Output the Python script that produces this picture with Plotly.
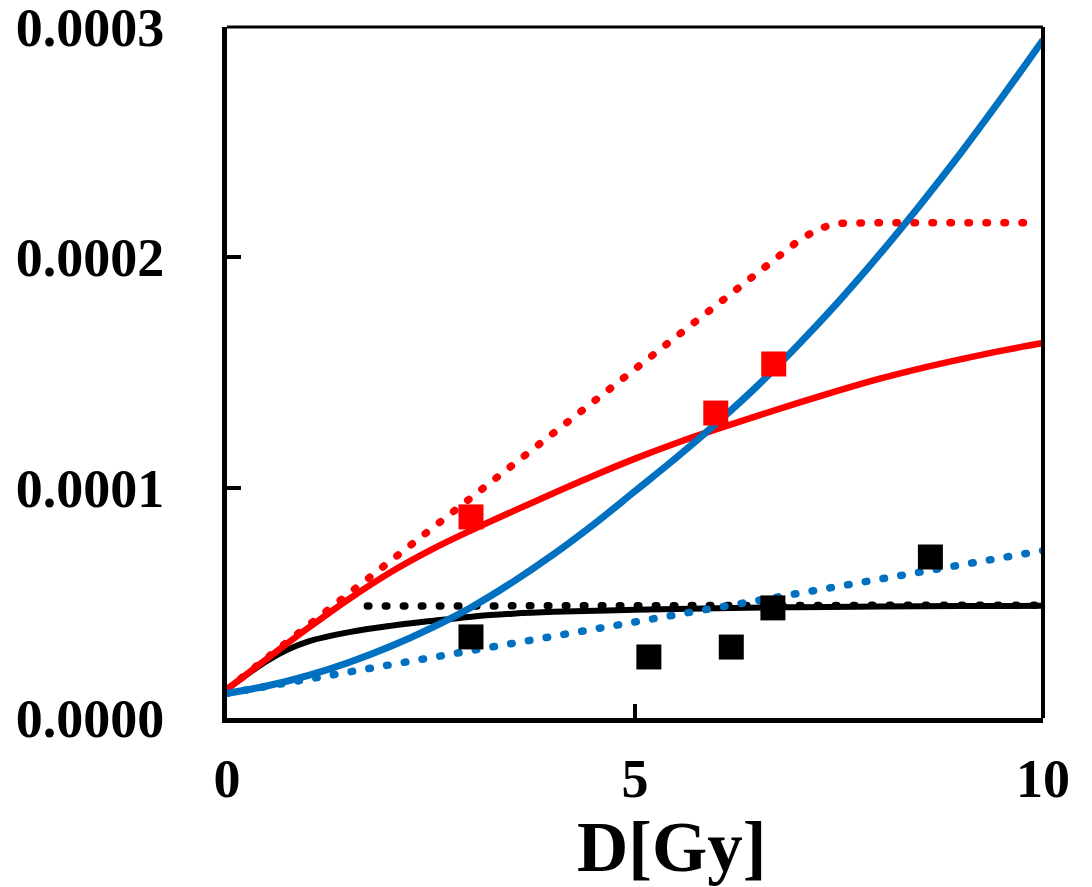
import plotly.graph_objects as go

# ---- data ----
x_curve = [0, 0.5, 1, 1.5, 2, 2.5, 3, 3.5, 4, 4.5, 5, 5.5, 6, 6.5, 7, 7.5, 8, 8.5, 9, 9.5, 10]

red_solid = [0.0000125, 0.0000260, 0.0000392, 0.0000518, 0.0000632, 0.0000730, 0.0000816,
             0.0000897, 0.0000976, 0.0001053, 0.0001126, 0.0001193, 0.0001254, 0.0001312,
             0.0001368, 0.0001422, 0.0001473, 0.0001518, 0.0001558, 0.0001595, 0.0001628]

blue_solid = [0.0000107, 0.0000140, 0.0000185, 0.0000242, 0.0000310, 0.0000390, 0.0000482,
              0.0000590, 0.0000710, 0.0000842, 0.0000985, 0.0001128, 0.0001280, 0.0001442,
              0.0001620, 0.0001810, 0.0002014, 0.0002230, 0.0002457, 0.0002696, 0.0002944]

x_black = [0, 0.25, 0.5, 0.75, 1, 1.5, 2, 2.5, 3, 3.5, 4, 5, 6, 7, 8, 9, 10]
black_solid = [0.0000125, 0.0000190, 0.0000250, 0.0000298, 0.0000333, 0.0000373, 0.0000400,
               0.0000421, 0.0000440, 0.0000453, 0.0000461, 0.0000470, 0.0000477, 0.0000481,
               0.0000484, 0.0000486, 0.0000487]

x_red_dot = [0, 1, 2, 3, 4, 5, 6, 7, 7.25, 7.5, 8, 9, 9.8]
red_dot = [0.0000125, 0.0000403, 0.0000681, 0.0000959, 0.0001237, 0.0001515, 0.0001793,
           0.0002071, 0.0002125, 0.0002148, 0.0002150, 0.0002150, 0.0002150]

x_blue_dot = [0, 1, 2, 3, 4, 5, 6, 7, 8, 9, 10]
blue_dot = [0.0000107, 0.0000169, 0.0000231, 0.0000293, 0.0000355, 0.0000417, 0.0000479,
            0.0000541, 0.0000603, 0.0000665, 0.0000727]

x_black_dot = [1.72, 3, 4, 5, 6, 7, 8, 9, 10]
black_dot = [0.0000486, 0.0000486, 0.0000486, 0.0000486, 0.0000486, 0.0000488, 0.0000490,
             0.0000490, 0.0000490]

x_red_sq = [2.99, 5.99, 6.70]
y_red_sq = [0.0000873, 0.0001324, 0.0001537]

x_black_sq = [2.99, 5.17, 6.18, 6.69, 8.62]
y_black_sq = [0.0000352, 0.0000265, 0.0000308, 0.0000478, 0.0000699]

x_ticks = [0, 5, 10]
y_ticks = [0, 0.0001, 0.0002, 0.0003]
y_tick_text = ["0.0000", "0.0001", "0.0002", "0.0003"]

RED = "#FF0000"
BLUE = "#0070C0"
BLACK = "#000000"
FONT = "Liberation Serif"
DOT = "1.5px,16.5px"

fig = go.Figure()
fig.add_trace(go.Scatter(x=x_black_dot, y=black_dot, mode="lines",
                         line=dict(color=BLACK, width=7.5, dash=DOT)))
fig.add_trace(go.Scatter(x=x_black, y=black_solid, mode="lines",
                         line=dict(color=BLACK, width=6, shape="spline")))
fig.add_trace(go.Scatter(x=x_blue_dot, y=blue_dot, mode="lines",
                         line=dict(color=BLUE, width=7.5, dash=DOT)))
fig.add_trace(go.Scatter(x=x_red_dot, y=red_dot, mode="lines",
                         line=dict(color=RED, width=7.5, dash=DOT)))
fig.add_trace(go.Scatter(x=x_curve, y=red_solid, mode="lines",
                         line=dict(color=RED, width=6.5, shape="spline")))
fig.add_trace(go.Scatter(x=x_curve, y=blue_solid, mode="lines",
                         line=dict(color=BLUE, width=7, shape="spline")))
fig.add_trace(go.Scatter(x=x_red_sq, y=y_red_sq, mode="markers",
                         marker=dict(symbol="square", size=25, color=RED, line=dict(width=0))))
fig.add_trace(go.Scatter(x=x_black_sq, y=y_black_sq, mode="markers",
                         marker=dict(symbol="square", size=25, color=BLACK, line=dict(width=0))))

fig.update_layout(
    width=1092, height=887,
    margin=dict(l=227, r=49, t=27, b=169),
    paper_bgcolor="white", plot_bgcolor="white",
    showlegend=False, hovermode=False,
    font=dict(family=FONT, color="black"),
    xaxis=dict(range=[0, 10], tickvals=x_ticks, ticktext=[str(v) for v in x_ticks],
               showgrid=False, zeroline=False, showline=True, linecolor="black", linewidth=5,
               ticks="inside", ticklen=14, tickwidth=4, tickcolor="black",
               tickfont=dict(family=FONT, size=54, color="black", weight="bold"),
               ticklabelstandoff=9, ticklabeloverflow="allow", automargin=False),
    yaxis=dict(range=[0, 0.0003], tickvals=y_ticks, ticktext=y_tick_text,
               showgrid=False, zeroline=False, showline=True, linecolor="black", linewidth=5,
               ticks="inside", ticklen=14, tickwidth=4, tickcolor="black",
               tickfont=dict(family=FONT, size=54, color="black", weight="bold"),
               ticklabelstandoff=47, ticklabeloverflow="allow", automargin=False),
    shapes=[
        dict(type="line", xref="paper", yref="paper", x0=0, x1=1, y0=1, y1=1,
             line=dict(color="black", width=3)),
        dict(type="line", xref="paper", yref="paper", x0=1, x1=1, y0=0, y1=1,
             line=dict(color="black", width=4)),
    ],
    annotations=[
        dict(text="<b>D[Gy]</b>", xref="paper", yref="paper", x=0.545, y=-0.1276,
             xanchor="center", yanchor="top", showarrow=False,
             font=dict(family=FONT, size=71, color="black")),
    ],
)

post = """
document.body.style.margin = '0px';
document.querySelectorAll('path.js-line').forEach(function(p) {
  var d = p.style.strokeDasharray;
  if (d && d !== 'none' && d !== '') { p.style.strokeLinecap = 'round'; }
});
"""

fig.write_html("out.html", post_script=post, config={"displayModeBar": False})
